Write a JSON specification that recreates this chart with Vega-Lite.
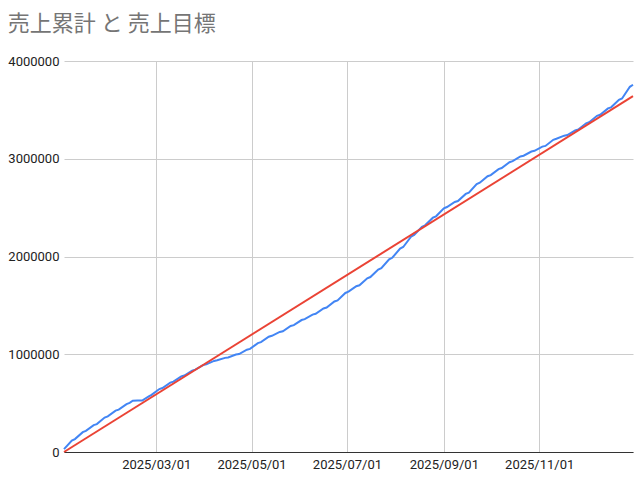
{
  "$schema": "https://vega.github.io/schema/vega-lite/v6.json",
  "description": "売上累計 と 売上目標 (2025)",
  "width": 569,
  "height": 391,
  "autosize": {"type": "none"},
  "padding": {"left": 64, "top": 61, "right": 7, "bottom": 34},
  "title": {
    "text": "売上累計 と 売上目標",
    "anchor": "start",
    "frame": "bounds",
    "font": "Noto Sans CJK JP",
    "fontSize": 22,
    "fontWeight": "normal",
    "color": "#757575",
    "offset": 19
  },
  "data": {
    "format": {"parse": {"date": "date:'%Y-%m-%d'"}},
    "values": [
      {"date": "2025-01-01", "series": "売上累計", "value": 30000},
      {"date": "2025-01-06", "series": "売上累計", "value": 117000},
      {"date": "2025-01-08", "series": "売上累計", "value": 132000},
      {"date": "2025-01-13", "series": "売上累計", "value": 203000},
      {"date": "2025-01-15", "series": "売上累計", "value": 216000},
      {"date": "2025-01-20", "series": "売上累計", "value": 275000},
      {"date": "2025-01-22", "series": "売上累計", "value": 285000},
      {"date": "2025-01-27", "series": "売上累計", "value": 352000},
      {"date": "2025-01-29", "series": "売上累計", "value": 364000},
      {"date": "2025-02-03", "series": "売上累計", "value": 423000},
      {"date": "2025-02-05", "series": "売上累計", "value": 433000},
      {"date": "2025-02-10", "series": "売上累計", "value": 490000},
      {"date": "2025-02-12", "series": "売上累計", "value": 503000},
      {"date": "2025-02-14", "series": "売上累計", "value": 524000},
      {"date": "2025-02-17", "series": "売上累計", "value": 526000},
      {"date": "2025-02-20", "series": "売上累計", "value": 527000},
      {"date": "2025-02-24", "series": "売上累計", "value": 566000},
      {"date": "2025-02-26", "series": "売上累計", "value": 585000},
      {"date": "2025-03-03", "series": "売上累計", "value": 644000},
      {"date": "2025-03-05", "series": "売上累計", "value": 655000},
      {"date": "2025-03-10", "series": "売上累計", "value": 710000},
      {"date": "2025-03-12", "series": "売上累計", "value": 720000},
      {"date": "2025-03-17", "series": "売上累計", "value": 773000},
      {"date": "2025-03-19", "series": "売上累計", "value": 782000},
      {"date": "2025-03-24", "series": "売上累計", "value": 833000},
      {"date": "2025-03-26", "series": "売上累計", "value": 842000},
      {"date": "2025-03-31", "series": "売上累計", "value": 889000},
      {"date": "2025-04-02", "series": "売上累計", "value": 897000},
      {"date": "2025-04-07", "series": "売上累計", "value": 932000},
      {"date": "2025-04-09", "series": "売上累計", "value": 938000},
      {"date": "2025-04-14", "series": "売上累計", "value": 963000},
      {"date": "2025-04-16", "series": "売上累計", "value": 967000},
      {"date": "2025-04-21", "series": "売上累計", "value": 997000},
      {"date": "2025-04-23", "series": "売上累計", "value": 1002000},
      {"date": "2025-04-28", "series": "売上累計", "value": 1047000},
      {"date": "2025-04-30", "series": "売上累計", "value": 1055000},
      {"date": "2025-05-05", "series": "売上累計", "value": 1114000},
      {"date": "2025-05-07", "series": "売上累計", "value": 1124000},
      {"date": "2025-05-12", "series": "売上累計", "value": 1179000},
      {"date": "2025-05-14", "series": "売上累計", "value": 1189000},
      {"date": "2025-05-19", "series": "売上累計", "value": 1228000},
      {"date": "2025-05-21", "series": "売上累計", "value": 1235000},
      {"date": "2025-05-26", "series": "売上累計", "value": 1289000},
      {"date": "2025-05-28", "series": "売上累計", "value": 1298000},
      {"date": "2025-06-02", "series": "売上累計", "value": 1350000},
      {"date": "2025-06-04", "series": "売上累計", "value": 1359000},
      {"date": "2025-06-09", "series": "売上累計", "value": 1406000},
      {"date": "2025-06-11", "series": "売上累計", "value": 1414000},
      {"date": "2025-06-16", "series": "売上累計", "value": 1468000},
      {"date": "2025-06-18", "series": "売上累計", "value": 1478000},
      {"date": "2025-06-23", "series": "売上累計", "value": 1540000},
      {"date": "2025-06-25", "series": "売上累計", "value": 1551000},
      {"date": "2025-06-30", "series": "売上累計", "value": 1627000},
      {"date": "2025-07-02", "series": "売上累計", "value": 1640000},
      {"date": "2025-07-07", "series": "売上累計", "value": 1696000},
      {"date": "2025-07-09", "series": "売上累計", "value": 1706000},
      {"date": "2025-07-14", "series": "売上累計", "value": 1777000},
      {"date": "2025-07-16", "series": "売上累計", "value": 1790000},
      {"date": "2025-07-21", "series": "売上累計", "value": 1867000},
      {"date": "2025-07-23", "series": "売上累計", "value": 1881000},
      {"date": "2025-07-28", "series": "売上累計", "value": 1971000},
      {"date": "2025-07-30", "series": "売上累計", "value": 1987000},
      {"date": "2025-08-04", "series": "売上累計", "value": 2081000},
      {"date": "2025-08-06", "series": "売上累計", "value": 2097000},
      {"date": "2025-08-11", "series": "売上累計", "value": 2202000},
      {"date": "2025-08-13", "series": "売上累計", "value": 2221000},
      {"date": "2025-08-18", "series": "売上累計", "value": 2304000},
      {"date": "2025-08-20", "series": "売上累計", "value": 2319000},
      {"date": "2025-08-25", "series": "売上累計", "value": 2397000},
      {"date": "2025-08-27", "series": "売上累計", "value": 2411000},
      {"date": "2025-09-01", "series": "売上累計", "value": 2492000},
      {"date": "2025-09-03", "series": "売上累計", "value": 2506000},
      {"date": "2025-09-08", "series": "売上累計", "value": 2558000},
      {"date": "2025-09-10", "series": "売上累計", "value": 2567000},
      {"date": "2025-09-15", "series": "売上累計", "value": 2640000},
      {"date": "2025-09-17", "series": "売上累計", "value": 2653000},
      {"date": "2025-09-22", "series": "売上累計", "value": 2740000},
      {"date": "2025-09-24", "series": "売上累計", "value": 2755000},
      {"date": "2025-09-29", "series": "売上累計", "value": 2821000},
      {"date": "2025-10-01", "series": "売上累計", "value": 2833000},
      {"date": "2025-10-06", "series": "売上累計", "value": 2894000},
      {"date": "2025-10-08", "series": "売上累計", "value": 2905000},
      {"date": "2025-10-13", "series": "売上累計", "value": 2965000},
      {"date": "2025-10-15", "series": "売上累計", "value": 2975000},
      {"date": "2025-10-20", "series": "売上累計", "value": 3023000},
      {"date": "2025-10-22", "series": "売上累計", "value": 3031000},
      {"date": "2025-10-27", "series": "売上累計", "value": 3074000},
      {"date": "2025-10-29", "series": "売上累計", "value": 3081000},
      {"date": "2025-11-03", "series": "売上累計", "value": 3124000},
      {"date": "2025-11-05", "series": "売上累計", "value": 3131000},
      {"date": "2025-11-10", "series": "売上累計", "value": 3194000},
      {"date": "2025-11-12", "series": "売上累計", "value": 3205000},
      {"date": "2025-11-17", "series": "売上累計", "value": 3236000},
      {"date": "2025-11-19", "series": "売上累計", "value": 3242000},
      {"date": "2025-11-24", "series": "売上累計", "value": 3290000},
      {"date": "2025-11-26", "series": "売上累計", "value": 3299000},
      {"date": "2025-12-01", "series": "売上累計", "value": 3363000},
      {"date": "2025-12-03", "series": "売上累計", "value": 3374000},
      {"date": "2025-12-08", "series": "売上累計", "value": 3439000},
      {"date": "2025-12-10", "series": "売上累計", "value": 3450000},
      {"date": "2025-12-15", "series": "売上累計", "value": 3515000},
      {"date": "2025-12-17", "series": "売上累計", "value": 3526000},
      {"date": "2025-12-22", "series": "売上累計", "value": 3603000},
      {"date": "2025-12-24", "series": "売上累計", "value": 3616000},
      {"date": "2025-12-29", "series": "売上累計", "value": 3736000},
      {"date": "2025-12-31", "series": "売上累計", "value": 3757000},
      {"date": "2025-01-01", "series": "売上目標", "value": 0},
      {"date": "2025-12-31", "series": "売上目標", "value": 3640000}
    ]
  },
  "mark": {"type": "line", "strokeWidth": 2},
  "encoding": {
    "x": {
      "field": "date",
      "type": "temporal",
      "scale": {
        "domain": [
          {"year": 2025, "month": 1, "date": 1},
          {"year": 2025, "month": 12, "date": 31}
        ]
      },
      "axis": {
        "title": null,
        "format": "%Y/%m/%d",
        "values": [
          {"year": 2025, "month": 3, "date": 1},
          {"year": 2025, "month": 5, "date": 1},
          {"year": 2025, "month": 7, "date": 1},
          {"year": 2025, "month": 9, "date": 1},
          {"year": 2025, "month": 11, "date": 1}
        ],
        "grid": true,
        "gridColor": "#cccccc",
        "ticks": false,
        "domainColor": "#333333",
        "labelFont": "Roboto",
        "labelFontSize": 13,
        "labelColor": "#222222",
        "labelPadding": 6
      }
    },
    "y": {
      "field": "value",
      "type": "quantitative",
      "scale": {"domain": [0, 4000000], "nice": false},
      "axis": {
        "title": null,
        "format": "d",
        "values": [0, 1000000, 2000000, 3000000, 4000000],
        "grid": true,
        "gridColor": "#cccccc",
        "ticks": false,
        "domain": false,
        "labelFont": "Roboto",
        "labelFontSize": 13,
        "labelColor": "#222222",
        "labelPadding": 5
      }
    },
    "color": {
      "field": "series",
      "type": "nominal",
      "scale": {"domain": ["売上累計", "売上目標"], "range": ["#4285F4", "#EA4335"]},
      "legend": null
    }
  },
  "config": {"view": {"stroke": null}}
}
